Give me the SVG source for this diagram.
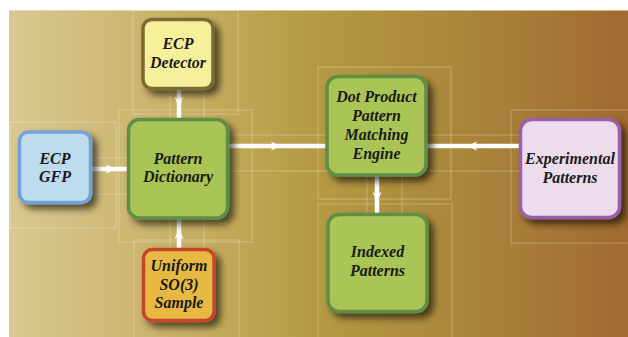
<svg xmlns="http://www.w3.org/2000/svg" width="628" height="337" viewBox="0 0 628 337">
<defs>
<linearGradient id="bg" x1="0" y1="0" x2="1" y2="0">
<stop offset="0" stop-color="#dac892"/>
<stop offset="0.25" stop-color="#c9b269"/>
<stop offset="0.5" stop-color="#b59a42"/>
<stop offset="0.75" stop-color="#a9843a"/>
<stop offset="1" stop-color="#a06a30"/>
</linearGradient>
<filter id="sh" x="-20%" y="-20%" width="150%" height="150%">
<feDropShadow dx="5" dy="5" stdDeviation="3.5" flood-color="#000" flood-opacity="0.6"/>
</filter>
<marker id="ah" viewBox="0 0 10 10" refX="5" refY="5" markerWidth="10" markerHeight="10" markerUnits="userSpaceOnUse" orient="auto">
<path d="M0,0.5 L10,5 L0,9.5 L2.5,5 Z" fill="#ffffff"/>
</marker>
</defs>
<style>
.frame{fill:none;stroke:#ffffff;stroke-opacity:0.28;stroke-width:1}
.box{stroke-width:3.5;filter:url(#sh)}
.lbl{font-family:"Liberation Serif","Times New Roman",serif;font-weight:bold;font-style:italic;font-size:16px;fill:#1a1a1a;text-anchor:middle}
.con{fill:none;stroke:#ffffff;stroke-width:4.5;marker-mid:url(#ah)}
</style>
<rect x="9" y="10" width="619" height="327" fill="url(#bg)"/>
<line x1="9" y1="10.5" x2="628" y2="10.5" stroke="#f0e6c4" stroke-opacity="0.6"/>
<g id="frames">
<rect class="frame" x="133" y="10" width="105" height="104"/>
<rect class="frame" x="10" y="122" width="106" height="106"/>
<rect class="frame" x="119" y="110" width="133" height="132"/>
<rect class="frame" x="134" y="240" width="105" height="100"/>
<rect class="frame" x="318" y="67" width="133" height="132"/>
<rect class="frame" x="318" y="204" width="134" height="140"/>
<rect class="frame" x="511" y="110" width="120" height="133"/>
<line class="frame" x1="170" y1="88" x2="170" y2="119"/>
<line class="frame" x1="204" y1="88" x2="204" y2="119"/>
<line class="frame" x1="170" y1="218" x2="170" y2="249"/>
<line class="frame" x1="204" y1="218" x2="204" y2="249"/>
<line class="frame" x1="90" y1="158" x2="128" y2="158"/>
<line class="frame" x1="90" y1="194" x2="128" y2="194"/>
<line class="frame" x1="228" y1="135" x2="520" y2="135"/>
<line class="frame" x1="228" y1="171" x2="520" y2="171"/>
<line class="frame" x1="367" y1="175" x2="367" y2="214"/>
<line class="frame" x1="402" y1="175" x2="402" y2="214"/>
</g>
<g id="connectors">
<polyline class="con" points="179,88 179,102 179,120"/>
<polyline class="con" points="90,169 111,169 129,169"/>
<polyline class="con" points="179,249 179,234 179,217"/>
<polyline class="con" points="227,146 276,146 328,146"/>
<polyline class="con" points="521,146 472,146 425,146"/>
<polyline class="con" points="377,175 377,197 377,215"/>
</g>
<g id="ecp-detector">
<rect class="box" x="143" y="19.5" width="70" height="69" rx="9" fill="#f6ef9c" stroke="#7b6b32"/>
<text class="lbl" x="178" y="49">ECP</text>
<text class="lbl" x="178" y="67.5">Detector</text>
</g>
<g id="ecp-gfp">
<rect class="box" x="19.5" y="132" width="71" height="70.5" rx="9" fill="#bedcee" stroke="#72a2d8"/>
<text class="lbl" x="55" y="163.5">ECP</text>
<text class="lbl" x="55" y="182">GFP</text>
</g>
<g id="pattern-dictionary">
<rect class="box" x="128.5" y="119.5" width="99" height="98.5" rx="11" fill="#aac555" stroke="#5e8e46"/>
<text class="lbl" x="178" y="163.5">Pattern</text>
<text class="lbl" x="178" y="182">Dictionary</text>
</g>
<g id="uniform-so3">
<rect class="box" x="143.5" y="249.5" width="70.5" height="71" rx="9" fill="#e8b942" stroke="#c4462b"/>
<text class="lbl" x="179" y="271">Uniform</text>
<text class="lbl" x="179" y="289.5">SO(3)</text>
<text class="lbl" x="179" y="308">Sample</text>
</g>
<g id="dot-product">
<rect class="box" x="327" y="76.5" width="99" height="98.5" rx="11" fill="#aac555" stroke="#5e8e46"/>
<text class="lbl" x="376.5" y="102">Dot Product</text>
<text class="lbl" x="376.5" y="121">Pattern</text>
<text class="lbl" x="376.5" y="139.5">Matching</text>
<text class="lbl" x="376.5" y="158.5">Engine</text>
</g>
<g id="indexed-patterns">
<rect class="box" x="328" y="214.5" width="99" height="97" rx="11" fill="#aac555" stroke="#5e8e46"/>
<text class="lbl" x="377.5" y="257">Indexed</text>
<text class="lbl" x="377.5" y="276">Patterns</text>
</g>
<g id="experimental-patterns">
<rect class="box" x="520.5" y="119.5" width="99" height="98" rx="11" fill="#eddcec" stroke="#9a5ea8"/>
<text class="lbl" x="570" y="163.5">Experimental</text>
<text class="lbl" x="570" y="182.5">Patterns</text>
</g>
</svg>
